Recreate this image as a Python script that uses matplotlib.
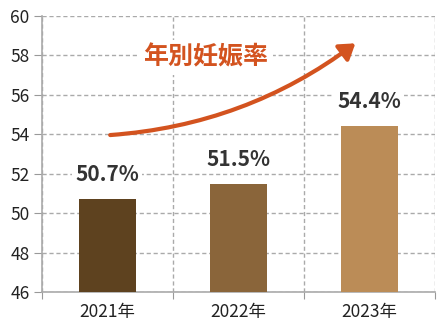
import matplotlib
matplotlib.use('Agg')
import matplotlib.pyplot as plt
from matplotlib.patches import FancyArrowPatch
import numpy as np

plt.rcParams['font.family'] = ['Noto Sans CJK JP', 'DejaVu Sans']

# データ
years = ['2021年', '2022年', '2023年']
rates = [50.7, 51.5, 54.4]
bar_colors = ['#5e421f', '#8a653a', '#bb8c57']
title = '年別妊娠率'

fig = plt.figure(figsize=(4.46, 3.34), dpi=100)
ax = fig.add_axes([0.094, 0.126, 0.881, 0.826])

x = np.arange(len(years))
ax.bar(x, [r - 46 for r in rates], bottom=46, width=0.43, color=bar_colors, zorder=3)

# 値ラベル
for xi, r in zip(x, rates):
    ax.annotate(f'{r:.1f}%', (xi, r), xytext=(0, 10), textcoords='offset points',
                ha='center', va='bottom', fontsize=15, fontweight='bold',
                color='#333333', zorder=4,
                bbox=dict(boxstyle='square,pad=0.15', fc='white', ec='none'))

ax.set_xlim(-0.5, 2.5)
ax.set_ylim(46, 60)
ax.set_yticks(np.arange(46, 61, 2))

# 目盛：境界に短い線、ラベルは中央
ax.set_xticks([-0.5, 0.5, 1.5, 2.5])
ax.set_xticklabels([])
ax.set_xticks(x, minor=True)
ax.set_xticklabels(years, minor=True, fontsize=12.5, color='#222222')
ax.tick_params(axis='x', which='major', length=5, color='#999999')
ax.tick_params(axis='x', which='minor', length=0, pad=8)
ax.tick_params(axis='y', length=6, color='#999999', labelsize=12.5,
               labelcolor='#222222', pad=3)

ax.grid(True, which='major', color='#aaaaaa', linestyle=(0, (3, 2)), linewidth=1, zorder=0)
ax.set_axisbelow(True)
for s in ['top', 'right']:
    ax.spines[s].set_visible(False)
for s in ['left', 'bottom']:
    ax.spines[s].set_color('#aaaaaa')
    ax.spines[s].set_linewidth(1.2)

# 矢印とタイトル
arrow = FancyArrowPatch((0.0, 53.95), (1.91, 58.7), connectionstyle='arc3,rad=0.15',
                        arrowstyle='-|>,head_length=9,head_width=6',
                        color='#d3531f', linewidth=3, zorder=5)
ax.add_patch(arrow)
ax.text(0.75, 57.9, title, ha='center', va='center', fontsize=18, fontweight='bold',
        color='#d3531f', zorder=4,
        bbox=dict(boxstyle='square,pad=0.2', fc='white', ec='none'))

fig.savefig('out.png', dpi=100)
